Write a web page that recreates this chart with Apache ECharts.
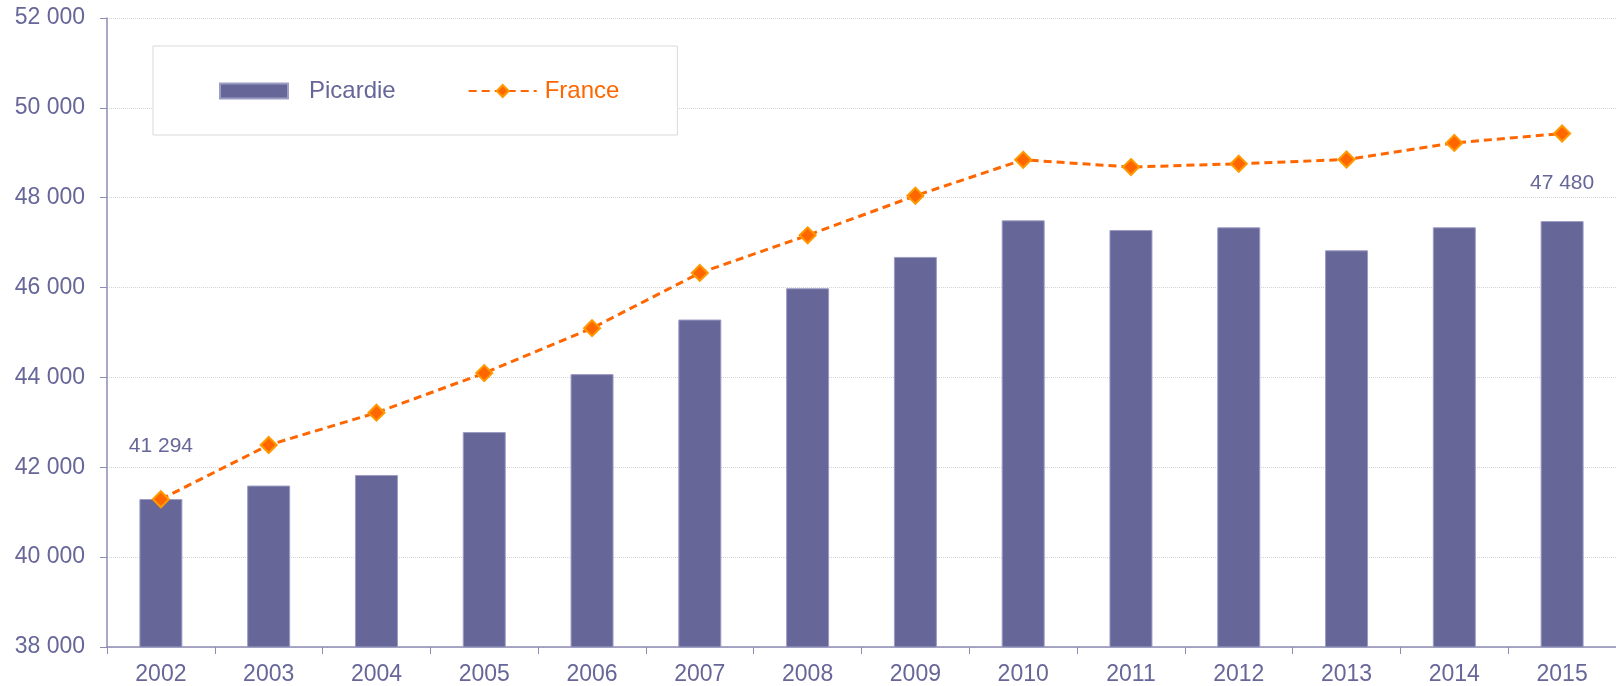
<!DOCTYPE html>
<html>
<head>
<meta charset="utf-8">
<script src="https://cdn.jsdelivr.net/npm/echarts@6/dist/echarts.min.js"></script>
<style>
  html, body { margin: 0; padding: 0; background: #fff; }
</style>
</head>
<body>
<div id="main" style="width:1616px;height:686px"></div>
<script>
const years = ['2002', '2003', '2004', '2005', '2006', '2007', '2008', '2009', '2010', '2011', '2012', '2013', '2014', '2015'];
const picardie = [41294, 41593, 41829, 42785, 44074, 45289, 45985, 46682, 47496, 47281, 47341, 46829, 47342, 47480];
const france = [41289, 42496, 43215, 44096, 45096, 46326, 47163, 48044, 48844, 48682, 48756, 48851, 49220, 49429];

const purple = '#666699';
const orange = '#ff6600';
const font = '"Liberation Sans", Arial, sans-serif';

// milliers séparés par une espace
function fmt(v) {
  return String(v).replace(/\B(?=(\d{3})+(?!\d))/g, ' ');
}

// seules la première et la dernière barre ont une étiquette
const last = picardie.length - 1;
const barData = picardie.map(function (v, i) {
  if (i === 0) return { value: v, label: { show: true, distance: 42 } };
  if (i === last) return { value: v, label: { show: true, distance: 27 } };
  return v;
});

let myChart = echarts.init(document.getElementById('main'));
let option = {
  animation: false,
  textStyle: { fontFamily: font },
  grid: { left: 107, right: -8, top: 18, bottom: 38, containLabel: false },
  legend: {
    left: 153,
    top: 46,
    orient: 'horizontal',
    padding: [33, 58, 32, 66],
    borderColor: '#d9d9d9',
    borderWidth: 1,
    backgroundColor: '#fff',
    itemWidth: 68,
    itemHeight: 15,
    itemGap: 72,
    textStyle: { fontSize: 24, fontFamily: font },
    data: [
      { name: 'Picardie', icon: 'rect', textStyle: { color: purple, padding: [0, 0, 0, 16] } },
      { name: 'France', textStyle: { color: orange, padding: [0, 0, 0, 3] } }
    ]
  },
  xAxis: {
    type: 'category',
    data: years,
    axisLine: { lineStyle: { color: '#8c8cb4', width: 1.5 } },
    axisTick: { show: true, length: 7, lineStyle: { color: '#8c8cb4' } },
    axisLabel: { color: purple, fontSize: 23, margin: 16, fontFamily: font },
    splitLine: { show: false }
  },
  yAxis: {
    type: 'value',
    min: 38000,
    max: 52000,
    interval: 2000,
    axisLine: { show: true, lineStyle: { color: '#8c8cb4', width: 1.5 } },
    axisTick: { show: true, length: 7, lineStyle: { color: '#8c8cb4' } },
    axisLabel: { color: purple, fontSize: 23, margin: 22, formatter: fmt, fontFamily: font },
    splitLine: { show: true, lineStyle: { color: '#d4d4d4', type: 'dotted', width: 1 } }
  },
  series: [
    {
      name: 'Picardie',
      type: 'bar',
      data: barData,
      barWidth: 43,
      itemStyle: { color: purple, borderColor: '#9d9dc4', borderWidth: 1 },
      label: {
        show: false,
        position: 'top',
        color: purple,
        fontSize: 21,
        fontFamily: font,
        formatter: function (p) { return fmt(p.value); }
      }
    },
    {
      name: 'France',
      type: 'line',
      data: france,
      symbol: 'diamond',
      symbolSize: 16,
      z: 5,
      lineStyle: { color: orange, width: 3, type: [8, 5] },
      itemStyle: { color: orange, borderColor: '#ff9900', borderWidth: 2 }
    }
  ]
};
myChart.setOption(option);
</script>
</body>
</html>
